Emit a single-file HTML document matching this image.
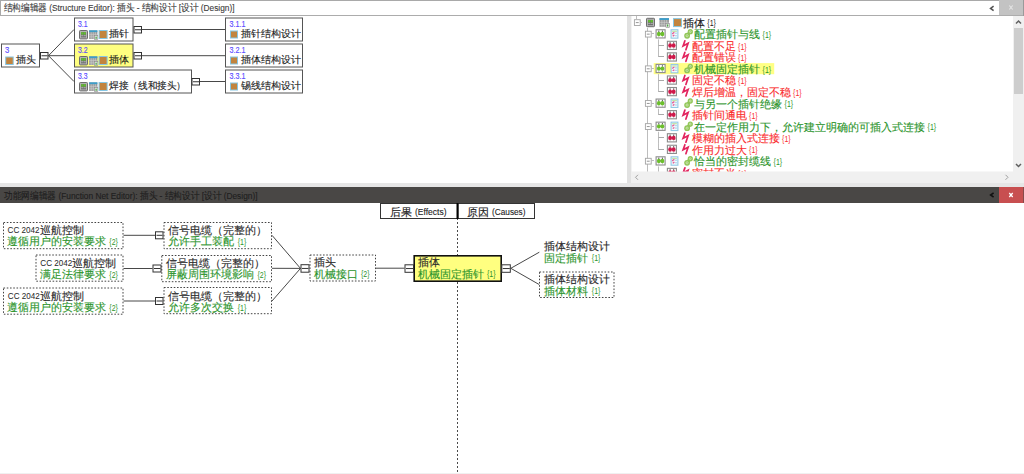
<!DOCTYPE html>
<html><head><meta charset="utf-8"><style>
html,body{margin:0;padding:0;background:#fff;width:1024px;height:474px;overflow:hidden}
svg text{font-family:"Liberation Sans", sans-serif;white-space:pre}
</style></head><body>
<svg width="1024" height="474" viewBox="0 0 1024 474" style="display:block">
<rect x="0" y="0" width="1024" height="474" fill="#ffffff" />
<rect x="0" y="0" width="1024" height="16" fill="#ffffff" />
<line x1="0" y1="0.5" x2="1024" y2="0.5" stroke="#a9a9a9" stroke-width="1" />
<line x1="0.5" y1="0" x2="0.5" y2="16" stroke="#a9a9a9" stroke-width="1" />
<line x1="0" y1="15.5" x2="1024" y2="15.5" stroke="#acacac" stroke-width="1.2" />
<rect x="999" y="0" width="25" height="15" fill="#c3c3c3" />
<line x1="1023.5" y1="0" x2="1023.5" y2="16" stroke="#9a9a9a" stroke-width="1" />
<path d="M1009.3 5.5 L1012.7 9.5 M1012.7 5.5 L1009.3 9.5" stroke="#e6e6e6" stroke-width="1.1"/>
<path d="M993.6 6.2 L990.6 8.4 L993.6 10.6" stroke="#555" stroke-width="1.6" fill="none"/>
<text x="3.5" y="11" font-size="9.6" fill="#3c3c3c" stroke="#3c3c3c" stroke-width="0.12" textLength="231" lengthAdjust="spacingAndGlyphs" >结构编辑器 (Structure Editor): 插头 - 结构设计 [设计 (Design)]</text>
<rect x="627" y="16" width="4" height="171" fill="#e1e1e1" />
<rect x="631" y="16" width="1" height="156" fill="#f3f3f3" />
<rect x="1013" y="16" width="11" height="156" fill="#f0f0f0" />
<rect x="1014" y="28" width="9" height="66" fill="#cdcdcd" />
<path d="M1016 23.5 L1018.5 21 L1021 23.5" stroke="#606060" stroke-width="1.5" fill="none"/>
<path d="M1016 164 L1018.5 166.5 L1021 164" stroke="#606060" stroke-width="1.5" fill="none"/>
<rect x="631" y="171.5" width="393" height="12" fill="#f0f0f0" />
<path d="M638 174.8 L635.5 177.3 L638 179.8" stroke="#a0a0a0" stroke-width="1" fill="none"/>
<path d="M1005.5 174.8 L1008 177.3 L1005.5 179.8" stroke="#a0a0a0" stroke-width="1" fill="none"/>
<rect x="0" y="183" width="1024" height="4" fill="#e6e6e6" />
<rect x="0" y="187" width="1024" height="16" fill="#494745" />
<text x="4" y="199" font-size="9.6" fill="#1e1e1e" stroke="#1e1e1e" stroke-width="0.12" textLength="253.5" lengthAdjust="spacingAndGlyphs" >功能网编辑器 (Function Net Editor): 插头 - 结构设计 [设计 (Design)]</text>
<rect x="999" y="187" width="24.5" height="16" fill="#c84f50" />
<path d="M1009.3 193 L1012.7 197 M1012.7 193 L1009.3 197" stroke="#ffffff" stroke-width="1.3"/>
<path d="M993.6 192.8 L990.6 195 L993.6 197.2" stroke="#111" stroke-width="1.6" fill="none"/>
<rect x="1.5" y="44.0" width="38" height="23" fill="#ffffff" stroke="#555555" stroke-width="1" />
<text x="5" y="52.5" font-size="9" fill="#5a4cff" stroke="#5a4cff" stroke-width="0.15" textLength="4.3" lengthAdjust="spacingAndGlyphs" >3</text>
<rect x="5.7" y="57.0" width="7.5" height="7.5" fill="#c2843e" stroke="#86c6e4" stroke-width="1" />
<text x="16.3" y="63.3" font-size="9.8" fill="#1a1a1a" stroke="#1a1a1a" stroke-width="0.12" >插头</text>
<rect x="40.5" y="52.5" width="7.5" height="6.5" fill="#fff" stroke="#333" stroke-width="1" />
<line x1="41.5" y1="55.75" x2="47.5" y2="55.75" stroke="#333" stroke-width="1" />
<rect x="74.5" y="18.0" width="58.5" height="23" fill="#ffffff" stroke="#555555" stroke-width="1" />
<text x="78" y="27" font-size="9" fill="#5a4cff" stroke="#5a4cff" stroke-width="0.15" textLength="9.6" lengthAdjust="spacingAndGlyphs" >3.1</text>
<rect x="79.5" y="30.5" width="8" height="8.4" fill="#b4b4b4" stroke="#6c6c6c" stroke-width="1" rx="0.8"/>
<rect x="81" y="32" width="5" height="5.4" fill="#6e6e6e" />
<rect x="81.2" y="32.2" width="2.1" height="2.4" fill="#62c22c" />
<rect x="83.7" y="32.2" width="2.1" height="2.4" fill="#62c22c" />
<rect x="81.2" y="35.1" width="2.1" height="1.2" fill="#a8a8a8" />
<rect x="83.7" y="35.1" width="2.1" height="1.2" fill="#a8a8a8" />
<rect x="89.1" y="30.5" width="8.299999999999999" height="8.5" fill="#9c9c9c" />
<rect x="89.1" y="30.3" width="8.299999999999999" height="1.9" fill="#3d9dc9" />
<line x1="91.175" y1="32.2" x2="91.175" y2="39" stroke="#d8d8d8" stroke-width="0.6" />
<line x1="93.25" y1="32.2" x2="93.25" y2="39" stroke="#d8d8d8" stroke-width="0.6" />
<line x1="95.32499999999999" y1="32.2" x2="95.32499999999999" y2="39" stroke="#d8d8d8" stroke-width="0.6" />
<line x1="89.1" y1="34.6" x2="97.39999999999999" y2="34.6" stroke="#d0d0d0" stroke-width="0.5" />
<line x1="89.1" y1="36.8" x2="97.39999999999999" y2="36.8" stroke="#d0d0d0" stroke-width="0.5" />
<rect x="94.39999999999999" y="35.6" width="3.4" height="3.9" fill="#f0f0f0" stroke="#8a8a8a" stroke-width="0.6" />
<rect x="95.49999999999999" y="36.6" width="1.2" height="2.2" fill="#3aa030" />
<rect x="99.1" y="30.5" width="8" height="8" fill="#c2843e" stroke="#86c6e4" stroke-width="1" />
<text x="109" y="37.2" font-size="9.8" fill="#1a1a1a" stroke="#1a1a1a" stroke-width="0.12" >插针</text>
<rect x="134.0" y="26.5" width="7.5" height="6.5" fill="#fff" stroke="#333" stroke-width="1" />
<line x1="135.0" y1="29.75" x2="141.0" y2="29.75" stroke="#333" stroke-width="1" />
<rect x="74.5" y="44.0" width="58.5" height="23" fill="#ffff80" stroke="#555555" stroke-width="1" />
<text x="78" y="53" font-size="9" fill="#5a4cff" stroke="#5a4cff" stroke-width="0.15" textLength="9.6" lengthAdjust="spacingAndGlyphs" >3.2</text>
<rect x="79.5" y="56.5" width="8" height="8.4" fill="#b4b4b4" stroke="#6c6c6c" stroke-width="1" rx="0.8"/>
<rect x="81" y="58" width="5" height="5.4" fill="#6e6e6e" />
<rect x="81.2" y="58.2" width="2.1" height="2.4" fill="#62c22c" />
<rect x="83.7" y="58.2" width="2.1" height="2.4" fill="#62c22c" />
<rect x="81.2" y="61.1" width="2.1" height="1.2" fill="#a8a8a8" />
<rect x="83.7" y="61.1" width="2.1" height="1.2" fill="#a8a8a8" />
<rect x="89.1" y="56.5" width="8.299999999999999" height="8.5" fill="#9c9c9c" />
<rect x="89.1" y="56.3" width="8.299999999999999" height="1.9" fill="#3d9dc9" />
<line x1="91.175" y1="58.2" x2="91.175" y2="65" stroke="#d8d8d8" stroke-width="0.6" />
<line x1="93.25" y1="58.2" x2="93.25" y2="65" stroke="#d8d8d8" stroke-width="0.6" />
<line x1="95.32499999999999" y1="58.2" x2="95.32499999999999" y2="65" stroke="#d8d8d8" stroke-width="0.6" />
<line x1="89.1" y1="60.6" x2="97.39999999999999" y2="60.6" stroke="#d0d0d0" stroke-width="0.5" />
<line x1="89.1" y1="62.8" x2="97.39999999999999" y2="62.8" stroke="#d0d0d0" stroke-width="0.5" />
<rect x="94.39999999999999" y="61.6" width="3.4" height="3.9" fill="#f0f0f0" stroke="#8a8a8a" stroke-width="0.6" />
<rect x="95.49999999999999" y="62.6" width="1.2" height="2.2" fill="#3aa030" />
<rect x="99.1" y="56.5" width="8" height="8" fill="#c2843e" stroke="#86c6e4" stroke-width="1" />
<text x="109" y="63.2" font-size="9.8" fill="#1a1a1a" stroke="#1a1a1a" stroke-width="0.12" >插体</text>
<rect x="134.0" y="52.5" width="7.5" height="6.5" fill="#fff" stroke="#333" stroke-width="1" />
<line x1="135.0" y1="55.75" x2="141.0" y2="55.75" stroke="#333" stroke-width="1" />
<rect x="74.5" y="70.0" width="117" height="23" fill="#ffffff" stroke="#555555" stroke-width="1" />
<text x="78" y="79" font-size="9" fill="#5a4cff" stroke="#5a4cff" stroke-width="0.15" textLength="9.6" lengthAdjust="spacingAndGlyphs" >3.3</text>
<rect x="79.5" y="82.5" width="8" height="8.4" fill="#b4b4b4" stroke="#6c6c6c" stroke-width="1" rx="0.8"/>
<rect x="81" y="84" width="5" height="5.4" fill="#6e6e6e" />
<rect x="81.2" y="84.2" width="2.1" height="2.4" fill="#62c22c" />
<rect x="83.7" y="84.2" width="2.1" height="2.4" fill="#62c22c" />
<rect x="81.2" y="87.1" width="2.1" height="1.2" fill="#a8a8a8" />
<rect x="83.7" y="87.1" width="2.1" height="1.2" fill="#a8a8a8" />
<rect x="89.1" y="82.5" width="8.299999999999999" height="8.5" fill="#9c9c9c" />
<rect x="89.1" y="82.3" width="8.299999999999999" height="1.9" fill="#3d9dc9" />
<line x1="91.175" y1="84.2" x2="91.175" y2="91" stroke="#d8d8d8" stroke-width="0.6" />
<line x1="93.25" y1="84.2" x2="93.25" y2="91" stroke="#d8d8d8" stroke-width="0.6" />
<line x1="95.32499999999999" y1="84.2" x2="95.32499999999999" y2="91" stroke="#d8d8d8" stroke-width="0.6" />
<line x1="89.1" y1="86.6" x2="97.39999999999999" y2="86.6" stroke="#d0d0d0" stroke-width="0.5" />
<line x1="89.1" y1="88.8" x2="97.39999999999999" y2="88.8" stroke="#d0d0d0" stroke-width="0.5" />
<rect x="94.39999999999999" y="87.6" width="3.4" height="3.9" fill="#f0f0f0" stroke="#8a8a8a" stroke-width="0.6" />
<rect x="95.49999999999999" y="88.6" width="1.2" height="2.2" fill="#3aa030" />
<rect x="99.1" y="82.5" width="8" height="8" fill="#c2843e" stroke="#86c6e4" stroke-width="1" />
<text x="109" y="89.2" font-size="9.8" fill="#1a1a1a" stroke="#1a1a1a" stroke-width="0.12" textLength="77" lengthAdjust="spacingAndGlyphs" >焊接（线和接头）</text>
<rect x="192.0" y="78.5" width="7.5" height="6.5" fill="#fff" stroke="#333" stroke-width="1" />
<line x1="193.0" y1="81.75" x2="199.0" y2="81.75" stroke="#333" stroke-width="1" />
<line x1="48.5" y1="55.7" x2="74" y2="29.5" stroke="#333" stroke-width="0.9" />
<line x1="48.5" y1="55.7" x2="74" y2="55.7" stroke="#333" stroke-width="0.9" />
<line x1="48.5" y1="55.7" x2="74" y2="81.5" stroke="#333" stroke-width="0.9" />
<line x1="142" y1="29.5" x2="225.5" y2="29.5" stroke="#333" stroke-width="0.9" />
<line x1="142" y1="55.7" x2="225.5" y2="55.7" stroke="#333" stroke-width="0.9" />
<line x1="200" y1="81.5" x2="225.5" y2="81.5" stroke="#333" stroke-width="0.9" />
<rect x="225.5" y="18.0" width="77" height="23" fill="#ffffff" stroke="#555555" stroke-width="1" />
<text x="229.5" y="27.0" font-size="9" fill="#5a4cff" stroke="#5a4cff" stroke-width="0.15" textLength="16" lengthAdjust="spacingAndGlyphs" >3.1.1</text>
<rect x="230.5" y="31.0" width="7" height="7" fill="#c2843e" stroke="#86c6e4" stroke-width="1" />
<text x="241" y="37.2" font-size="9.8" fill="#1a1a1a" stroke="#1a1a1a" stroke-width="0.12" >插针结构设计</text>
<rect x="225.5" y="44.0" width="77" height="23" fill="#ffffff" stroke="#555555" stroke-width="1" />
<text x="229.5" y="53.0" font-size="9" fill="#5a4cff" stroke="#5a4cff" stroke-width="0.15" textLength="16" lengthAdjust="spacingAndGlyphs" >3.2.1</text>
<rect x="230.5" y="57.0" width="7" height="7" fill="#c2843e" stroke="#86c6e4" stroke-width="1" />
<text x="241" y="63.2" font-size="9.8" fill="#1a1a1a" stroke="#1a1a1a" stroke-width="0.12" >插体结构设计</text>
<rect x="225.5" y="70.0" width="77" height="23" fill="#ffffff" stroke="#555555" stroke-width="1" />
<text x="229.5" y="79.0" font-size="9" fill="#5a4cff" stroke="#5a4cff" stroke-width="0.15" textLength="16" lengthAdjust="spacingAndGlyphs" >3.3.1</text>
<rect x="230.5" y="83.0" width="7" height="7" fill="#c2843e" stroke="#86c6e4" stroke-width="1" />
<text x="241" y="89.2" font-size="9.8" fill="#1a1a1a" stroke="#1a1a1a" stroke-width="0.12" >锡线结构设计</text>
<svg x="631" y="16" width="382" height="155.5" overflow="hidden"><g transform="translate(-631,-16)">
<rect x="653.7" y="63.1" width="120.5" height="11.1" fill="#ffff84" />
<line x1="636.5" y1="14" x2="636.5" y2="19" stroke="#bdbdbd" stroke-width="1" />
<line x1="647.5" y1="28" x2="647.5" y2="175" stroke="#bdbdbd" stroke-width="1" />
<rect x="634.4" y="19.7" width="5.8" height="5.8" fill="#fff" stroke="#a4a4a4" stroke-width="0.9" />
<line x1="635.8" y1="22.6" x2="638.7" y2="22.6" stroke="#8a8a8a" stroke-width="0.9" />
<line x1="640.2" y1="22.5" x2="642" y2="22.5" stroke="#c4c4c4" stroke-width="1" />
<rect x="646.5" y="18.3" width="8" height="8.4" fill="#b4b4b4" stroke="#6c6c6c" stroke-width="1" rx="0.8"/>
<rect x="648" y="19.8" width="5" height="5.4" fill="#6e6e6e" />
<rect x="648.2" y="20.0" width="2.1" height="2.4" fill="#62c22c" />
<rect x="650.7" y="20.0" width="2.1" height="2.4" fill="#62c22c" />
<rect x="648.2" y="22.9" width="2.1" height="1.2" fill="#a8a8a8" />
<rect x="650.7" y="22.9" width="2.1" height="1.2" fill="#a8a8a8" />
<rect x="659.5" y="18.3" width="9.5" height="8.5" fill="#9c9c9c" />
<rect x="659.5" y="18.1" width="9.5" height="1.9" fill="#3d9dc9" />
<line x1="661.875" y1="20.0" x2="661.875" y2="26.8" stroke="#d8d8d8" stroke-width="0.6" />
<line x1="664.25" y1="20.0" x2="664.25" y2="26.8" stroke="#d8d8d8" stroke-width="0.6" />
<line x1="666.625" y1="20.0" x2="666.625" y2="26.8" stroke="#d8d8d8" stroke-width="0.6" />
<line x1="659.5" y1="22.4" x2="669.0" y2="22.4" stroke="#d0d0d0" stroke-width="0.5" />
<line x1="659.5" y1="24.6" x2="669.0" y2="24.6" stroke="#d0d0d0" stroke-width="0.5" />
<rect x="666.0" y="23.4" width="3.4" height="3.9" fill="#f0f0f0" stroke="#8a8a8a" stroke-width="0.6" />
<rect x="667.1" y="24.4" width="1.2" height="2.2" fill="#3aa030" />
<rect x="673.5" y="18.6" width="8" height="8" fill="#c2843e" stroke="#86c6e4" stroke-width="1" />
<text x="683" y="26.700000000000003" font-size="11" fill="#1a1a1a" stroke="#1a1a1a" stroke-width="0.12" >插体</text>
<text x="707.3" y="26.4" font-size="8.2" fill="#1a1a1a" textLength="8.6" lengthAdjust="spacingAndGlyphs" >{1}</text>
<rect x="645.4" y="31.25" width="5.8" height="5.8" fill="#fff" stroke="#a4a4a4" stroke-width="0.9" />
<line x1="646.8" y1="34.15" x2="649.7" y2="34.15" stroke="#8a8a8a" stroke-width="0.9" />
<line x1="651.2" y1="33.5" x2="653" y2="33.5" stroke="#c4c4c4" stroke-width="1" />
<line x1="651" y1="33.5" x2="654" y2="33.5" stroke="#bdbdbd" stroke-width="1" />
<rect x="656.1" y="29.75" width="9" height="8.2" fill="#ffffff" stroke="#8c8c8c" stroke-width="1.1" />
<line x1="658.8" y1="30.55" x2="658.8" y2="32.050000000000004" stroke="#444" stroke-width="0.9" />
<line x1="662.4" y1="30.55" x2="662.4" y2="32.050000000000004" stroke="#444" stroke-width="0.9" />
<line x1="658.8" y1="36.35" x2="658.8" y2="37.25" stroke="#999" stroke-width="0.8" />
<line x1="662.4" y1="36.35" x2="662.4" y2="37.25" stroke="#999" stroke-width="0.8" />
<line x1="658.8" y1="33.85" x2="662.4" y2="33.85" stroke="#333" stroke-width="0.9" />
<ellipse cx="658.8" cy="33.95" rx="1.9" ry="2.2" fill="#6cbf2c"/><ellipse cx="662.4" cy="33.95" rx="1.9" ry="2.2" fill="#6cbf2c"/>
<rect x="671.1" y="29.75" width="6.8" height="8.4" fill="#f4fafd" stroke="#92c9e6" stroke-width="1.1" />
<rect x="672.1" y="30.650000000000002" width="4.8" height="1.3" fill="#c2e4ac" />
<rect x="674.9" y="32.550000000000004" width="2.2" height="1.3" fill="#b4daf0" />
<rect x="674.9" y="35.050000000000004" width="2.2" height="1.3" fill="#b4daf0" />
<path d="M674.4 32.35 L672.7 33.35 L672.7 34.15 M674.4 35.050000000000004 L672.7 36.15" stroke="#e45a94" stroke-width="1.3" fill="none"/>
<path d="M687.3 35.65 L690.2 31.650000000000002" stroke="#92c658" stroke-width="3.2"/>
<circle cx="687.1" cy="35.75" r="2.9" fill="#92c658"/><circle cx="690.3" cy="31.650000000000002" r="2.6" fill="#92c658"/>
<circle cx="687.1" cy="35.75" r="1.1" fill="none" stroke="#e4f2d6" stroke-width="0.6"/><circle cx="690.3" cy="31.650000000000002" r="0.9" fill="none" stroke="#e4f2d6" stroke-width="0.6"/>
<text x="694.3" y="38.25" font-size="11" fill="#2b942b" stroke="#2b942b" stroke-width="0.12" >配置插针与线</text>
<text x="762.5999999999999" y="37.95" font-size="8.2" fill="#2b942b" textLength="8.6" lengthAdjust="spacingAndGlyphs" >{1}</text>
<line x1="658.5" y1="39.400000000000006" x2="658.5" y2="51.400000000000006" stroke="#bdbdbd" stroke-width="1" />
<line x1="658.5" y1="45.5" x2="664" y2="45.5" stroke="#a8a8a8" stroke-width="1" />
<rect x="667.4" y="41.300000000000004" width="9" height="8.2" fill="#ffffff" stroke="#8c8c8c" stroke-width="1.1" />
<line x1="670.0999999999999" y1="42.10000000000001" x2="670.0999999999999" y2="43.60000000000001" stroke="#444" stroke-width="0.9" />
<line x1="673.6999999999999" y1="42.10000000000001" x2="673.6999999999999" y2="43.60000000000001" stroke="#444" stroke-width="0.9" />
<line x1="670.0999999999999" y1="47.900000000000006" x2="670.0999999999999" y2="48.800000000000004" stroke="#999" stroke-width="0.8" />
<line x1="673.6999999999999" y1="47.900000000000006" x2="673.6999999999999" y2="48.800000000000004" stroke="#999" stroke-width="0.8" />
<line x1="670.0999999999999" y1="45.400000000000006" x2="673.6999999999999" y2="45.400000000000006" stroke="#333" stroke-width="0.9" />
<ellipse cx="670.0999999999999" cy="45.50000000000001" rx="1.9" ry="2.2" fill="#d0184a"/><ellipse cx="673.6999999999999" cy="45.50000000000001" rx="1.9" ry="2.2" fill="#d0184a"/>
<path d="M684.9 40.800000000000004 L683.1 45.900000000000006 L688.1 43.300000000000004 L685.9 49.800000000000004" stroke="#e2245e" stroke-width="1.7" fill="none" stroke-linejoin="miter" stroke-linecap="round"/>
<text x="691.8" y="49.800000000000004" font-size="11" fill="#fa2d2d" stroke="#fa2d2d" stroke-width="0.12" >配置不足</text>
<text x="738.0999999999999" y="49.50000000000001" font-size="8.2" fill="#fa2d2d" textLength="8.6" lengthAdjust="spacingAndGlyphs" >{1}</text>
<line x1="658.5" y1="50.95" x2="658.5" y2="57.0" stroke="#bdbdbd" stroke-width="1" />
<line x1="658.5" y1="56.5" x2="664" y2="56.5" stroke="#a8a8a8" stroke-width="1" />
<rect x="667.4" y="52.85" width="9" height="8.2" fill="#ffffff" stroke="#8c8c8c" stroke-width="1.1" />
<line x1="670.0999999999999" y1="53.650000000000006" x2="670.0999999999999" y2="55.150000000000006" stroke="#444" stroke-width="0.9" />
<line x1="673.6999999999999" y1="53.650000000000006" x2="673.6999999999999" y2="55.150000000000006" stroke="#444" stroke-width="0.9" />
<line x1="670.0999999999999" y1="59.45" x2="670.0999999999999" y2="60.35" stroke="#999" stroke-width="0.8" />
<line x1="673.6999999999999" y1="59.45" x2="673.6999999999999" y2="60.35" stroke="#999" stroke-width="0.8" />
<line x1="670.0999999999999" y1="56.95" x2="673.6999999999999" y2="56.95" stroke="#333" stroke-width="0.9" />
<ellipse cx="670.0999999999999" cy="57.050000000000004" rx="1.9" ry="2.2" fill="#d0184a"/><ellipse cx="673.6999999999999" cy="57.050000000000004" rx="1.9" ry="2.2" fill="#d0184a"/>
<path d="M684.9 52.35 L683.1 57.45 L688.1 54.85 L685.9 61.35" stroke="#e2245e" stroke-width="1.7" fill="none" stroke-linejoin="miter" stroke-linecap="round"/>
<text x="691.8" y="61.35" font-size="11" fill="#fa2d2d" stroke="#fa2d2d" stroke-width="0.12" >配置错误</text>
<text x="738.0999999999999" y="61.050000000000004" font-size="8.2" fill="#fa2d2d" textLength="8.6" lengthAdjust="spacingAndGlyphs" >{1}</text>
<rect x="645.4" y="65.9" width="5.8" height="5.8" fill="#fff" stroke="#a4a4a4" stroke-width="0.9" />
<line x1="646.8" y1="68.8" x2="649.7" y2="68.8" stroke="#8a8a8a" stroke-width="0.9" />
<line x1="651.2" y1="68.5" x2="653" y2="68.5" stroke="#c4c4c4" stroke-width="1" />
<line x1="651" y1="68.5" x2="654" y2="68.5" stroke="#bdbdbd" stroke-width="1" />
<rect x="656.1" y="64.4" width="9" height="8.2" fill="#ffffff" stroke="#8c8c8c" stroke-width="1.1" />
<line x1="658.8" y1="65.2" x2="658.8" y2="66.7" stroke="#444" stroke-width="0.9" />
<line x1="662.4" y1="65.2" x2="662.4" y2="66.7" stroke="#444" stroke-width="0.9" />
<line x1="658.8" y1="71.0" x2="658.8" y2="71.9" stroke="#999" stroke-width="0.8" />
<line x1="662.4" y1="71.0" x2="662.4" y2="71.9" stroke="#999" stroke-width="0.8" />
<line x1="658.8" y1="68.5" x2="662.4" y2="68.5" stroke="#333" stroke-width="0.9" />
<ellipse cx="658.8" cy="68.6" rx="1.9" ry="2.2" fill="#6cbf2c"/><ellipse cx="662.4" cy="68.6" rx="1.9" ry="2.2" fill="#6cbf2c"/>
<rect x="671.1" y="64.4" width="6.8" height="8.4" fill="#f4fafd" stroke="#92c9e6" stroke-width="1.1" />
<rect x="672.1" y="65.3" width="4.8" height="1.3" fill="#c2e4ac" />
<rect x="674.9" y="67.2" width="2.2" height="1.3" fill="#b4daf0" />
<rect x="674.9" y="69.7" width="2.2" height="1.3" fill="#b4daf0" />
<path d="M674.4 67.0 L672.7 68.0 L672.7 68.8 M674.4 69.7 L672.7 70.8" stroke="#e45a94" stroke-width="1.3" fill="none"/>
<path d="M687.3 70.3 L690.2 66.3" stroke="#92c658" stroke-width="3.2"/>
<circle cx="687.1" cy="70.4" r="2.9" fill="#92c658"/><circle cx="690.3" cy="66.3" r="2.6" fill="#92c658"/>
<circle cx="687.1" cy="70.4" r="1.1" fill="none" stroke="#e4f2d6" stroke-width="0.6"/><circle cx="690.3" cy="66.3" r="0.9" fill="none" stroke="#e4f2d6" stroke-width="0.6"/>
<text x="694.3" y="72.9" font-size="11" fill="#2b942b" stroke="#2b942b" stroke-width="0.12" >机械固定插针</text>
<text x="762.5999999999999" y="72.6" font-size="8.2" fill="#2b942b" textLength="8.6" lengthAdjust="spacingAndGlyphs" >{1}</text>
<line x1="658.5" y1="74.05" x2="658.5" y2="86.05" stroke="#bdbdbd" stroke-width="1" />
<line x1="658.5" y1="80.5" x2="664" y2="80.5" stroke="#a8a8a8" stroke-width="1" />
<rect x="667.4" y="75.95" width="9" height="8.2" fill="#ffffff" stroke="#8c8c8c" stroke-width="1.1" />
<line x1="670.0999999999999" y1="76.75" x2="670.0999999999999" y2="78.25" stroke="#444" stroke-width="0.9" />
<line x1="673.6999999999999" y1="76.75" x2="673.6999999999999" y2="78.25" stroke="#444" stroke-width="0.9" />
<line x1="670.0999999999999" y1="82.55" x2="670.0999999999999" y2="83.45" stroke="#999" stroke-width="0.8" />
<line x1="673.6999999999999" y1="82.55" x2="673.6999999999999" y2="83.45" stroke="#999" stroke-width="0.8" />
<line x1="670.0999999999999" y1="80.05" x2="673.6999999999999" y2="80.05" stroke="#333" stroke-width="0.9" />
<ellipse cx="670.0999999999999" cy="80.14999999999999" rx="1.9" ry="2.2" fill="#d0184a"/><ellipse cx="673.6999999999999" cy="80.14999999999999" rx="1.9" ry="2.2" fill="#d0184a"/>
<path d="M684.9 75.45 L683.1 80.55 L688.1 77.95 L685.9 84.45" stroke="#e2245e" stroke-width="1.7" fill="none" stroke-linejoin="miter" stroke-linecap="round"/>
<text x="691.8" y="84.45" font-size="11" fill="#fa2d2d" stroke="#fa2d2d" stroke-width="0.12" >固定不稳</text>
<text x="738.0999999999999" y="84.14999999999999" font-size="8.2" fill="#fa2d2d" textLength="8.6" lengthAdjust="spacingAndGlyphs" >{1}</text>
<line x1="658.5" y1="85.60000000000001" x2="658.5" y2="92.0" stroke="#bdbdbd" stroke-width="1" />
<line x1="658.5" y1="91.5" x2="664" y2="91.5" stroke="#a8a8a8" stroke-width="1" />
<rect x="667.4" y="87.50000000000001" width="9" height="8.2" fill="#ffffff" stroke="#8c8c8c" stroke-width="1.1" />
<line x1="670.0999999999999" y1="88.30000000000001" x2="670.0999999999999" y2="89.80000000000001" stroke="#444" stroke-width="0.9" />
<line x1="673.6999999999999" y1="88.30000000000001" x2="673.6999999999999" y2="89.80000000000001" stroke="#444" stroke-width="0.9" />
<line x1="670.0999999999999" y1="94.10000000000001" x2="670.0999999999999" y2="95.00000000000001" stroke="#999" stroke-width="0.8" />
<line x1="673.6999999999999" y1="94.10000000000001" x2="673.6999999999999" y2="95.00000000000001" stroke="#999" stroke-width="0.8" />
<line x1="670.0999999999999" y1="91.60000000000001" x2="673.6999999999999" y2="91.60000000000001" stroke="#333" stroke-width="0.9" />
<ellipse cx="670.0999999999999" cy="91.7" rx="1.9" ry="2.2" fill="#d0184a"/><ellipse cx="673.6999999999999" cy="91.7" rx="1.9" ry="2.2" fill="#d0184a"/>
<path d="M684.9 87.00000000000001 L683.1 92.10000000000001 L688.1 89.50000000000001 L685.9 96.00000000000001" stroke="#e2245e" stroke-width="1.7" fill="none" stroke-linejoin="miter" stroke-linecap="round"/>
<text x="691.8" y="96.00000000000001" font-size="11" fill="#fa2d2d" stroke="#fa2d2d" stroke-width="0.12" >焊后增温，固定不稳</text>
<text x="793.0999999999999" y="95.7" font-size="8.2" fill="#fa2d2d" textLength="8.6" lengthAdjust="spacingAndGlyphs" >{1}</text>
<rect x="645.4" y="100.55000000000001" width="5.8" height="5.8" fill="#fff" stroke="#a4a4a4" stroke-width="0.9" />
<line x1="646.8" y1="103.45" x2="649.7" y2="103.45" stroke="#8a8a8a" stroke-width="0.9" />
<line x1="651.2" y1="103.5" x2="653" y2="103.5" stroke="#c4c4c4" stroke-width="1" />
<line x1="651" y1="103.5" x2="654" y2="103.5" stroke="#bdbdbd" stroke-width="1" />
<rect x="656.1" y="99.05000000000001" width="9" height="8.2" fill="#ffffff" stroke="#8c8c8c" stroke-width="1.1" />
<line x1="658.8" y1="99.85000000000001" x2="658.8" y2="101.35000000000001" stroke="#444" stroke-width="0.9" />
<line x1="662.4" y1="99.85000000000001" x2="662.4" y2="101.35000000000001" stroke="#444" stroke-width="0.9" />
<line x1="658.8" y1="105.65" x2="658.8" y2="106.55000000000001" stroke="#999" stroke-width="0.8" />
<line x1="662.4" y1="105.65" x2="662.4" y2="106.55000000000001" stroke="#999" stroke-width="0.8" />
<line x1="658.8" y1="103.15" x2="662.4" y2="103.15" stroke="#333" stroke-width="0.9" />
<ellipse cx="658.8" cy="103.25" rx="1.9" ry="2.2" fill="#6cbf2c"/><ellipse cx="662.4" cy="103.25" rx="1.9" ry="2.2" fill="#6cbf2c"/>
<rect x="671.1" y="99.05000000000001" width="6.8" height="8.4" fill="#f4fafd" stroke="#92c9e6" stroke-width="1.1" />
<rect x="672.1" y="99.95" width="4.8" height="1.3" fill="#c2e4ac" />
<rect x="674.9" y="101.85000000000001" width="2.2" height="1.3" fill="#b4daf0" />
<rect x="674.9" y="104.35000000000001" width="2.2" height="1.3" fill="#b4daf0" />
<path d="M674.4 101.65 L672.7 102.65 L672.7 103.45 M674.4 104.35000000000001 L672.7 105.45" stroke="#e45a94" stroke-width="1.3" fill="none"/>
<path d="M687.3 104.95 L690.2 100.95" stroke="#92c658" stroke-width="3.2"/>
<circle cx="687.1" cy="105.05000000000001" r="2.9" fill="#92c658"/><circle cx="690.3" cy="100.95" r="2.6" fill="#92c658"/>
<circle cx="687.1" cy="105.05000000000001" r="1.1" fill="none" stroke="#e4f2d6" stroke-width="0.6"/><circle cx="690.3" cy="100.95" r="0.9" fill="none" stroke="#e4f2d6" stroke-width="0.6"/>
<text x="694.3" y="107.55000000000001" font-size="11" fill="#2b942b" stroke="#2b942b" stroke-width="0.12" >与另一个插针绝缘</text>
<text x="784.5999999999999" y="107.25" font-size="8.2" fill="#2b942b" textLength="8.6" lengthAdjust="spacingAndGlyphs" >{1}</text>
<line x1="658.5" y1="108.7" x2="658.5" y2="115.0" stroke="#bdbdbd" stroke-width="1" />
<line x1="658.5" y1="114.5" x2="664" y2="114.5" stroke="#a8a8a8" stroke-width="1" />
<rect x="667.4" y="110.60000000000001" width="9" height="8.2" fill="#ffffff" stroke="#8c8c8c" stroke-width="1.1" />
<line x1="670.0999999999999" y1="111.4" x2="670.0999999999999" y2="112.9" stroke="#444" stroke-width="0.9" />
<line x1="673.6999999999999" y1="111.4" x2="673.6999999999999" y2="112.9" stroke="#444" stroke-width="0.9" />
<line x1="670.0999999999999" y1="117.2" x2="670.0999999999999" y2="118.10000000000001" stroke="#999" stroke-width="0.8" />
<line x1="673.6999999999999" y1="117.2" x2="673.6999999999999" y2="118.10000000000001" stroke="#999" stroke-width="0.8" />
<line x1="670.0999999999999" y1="114.7" x2="673.6999999999999" y2="114.7" stroke="#333" stroke-width="0.9" />
<ellipse cx="670.0999999999999" cy="114.8" rx="1.9" ry="2.2" fill="#d0184a"/><ellipse cx="673.6999999999999" cy="114.8" rx="1.9" ry="2.2" fill="#d0184a"/>
<path d="M684.9 110.10000000000001 L683.1 115.2 L688.1 112.60000000000001 L685.9 119.10000000000001" stroke="#e2245e" stroke-width="1.7" fill="none" stroke-linejoin="miter" stroke-linecap="round"/>
<text x="691.8" y="119.10000000000001" font-size="11" fill="#fa2d2d" stroke="#fa2d2d" stroke-width="0.12" >插针间通电</text>
<text x="749.0999999999999" y="118.8" font-size="8.2" fill="#fa2d2d" textLength="8.6" lengthAdjust="spacingAndGlyphs" >{1}</text>
<rect x="645.4" y="123.65" width="5.8" height="5.8" fill="#fff" stroke="#a4a4a4" stroke-width="0.9" />
<line x1="646.8" y1="126.55" x2="649.7" y2="126.55" stroke="#8a8a8a" stroke-width="0.9" />
<line x1="651.2" y1="126.5" x2="653" y2="126.5" stroke="#c4c4c4" stroke-width="1" />
<line x1="651" y1="126.5" x2="654" y2="126.5" stroke="#bdbdbd" stroke-width="1" />
<rect x="656.1" y="122.15" width="9" height="8.2" fill="#ffffff" stroke="#8c8c8c" stroke-width="1.1" />
<line x1="658.8" y1="122.95" x2="658.8" y2="124.45" stroke="#444" stroke-width="0.9" />
<line x1="662.4" y1="122.95" x2="662.4" y2="124.45" stroke="#444" stroke-width="0.9" />
<line x1="658.8" y1="128.75" x2="658.8" y2="129.65" stroke="#999" stroke-width="0.8" />
<line x1="662.4" y1="128.75" x2="662.4" y2="129.65" stroke="#999" stroke-width="0.8" />
<line x1="658.8" y1="126.25" x2="662.4" y2="126.25" stroke="#333" stroke-width="0.9" />
<ellipse cx="658.8" cy="126.35" rx="1.9" ry="2.2" fill="#6cbf2c"/><ellipse cx="662.4" cy="126.35" rx="1.9" ry="2.2" fill="#6cbf2c"/>
<rect x="671.1" y="122.15" width="6.8" height="8.4" fill="#f4fafd" stroke="#92c9e6" stroke-width="1.1" />
<rect x="672.1" y="123.05" width="4.8" height="1.3" fill="#c2e4ac" />
<rect x="674.9" y="124.95" width="2.2" height="1.3" fill="#b4daf0" />
<rect x="674.9" y="127.45" width="2.2" height="1.3" fill="#b4daf0" />
<path d="M674.4 124.75 L672.7 125.75 L672.7 126.55 M674.4 127.45 L672.7 128.55" stroke="#e45a94" stroke-width="1.3" fill="none"/>
<path d="M687.3 128.05 L690.2 124.05" stroke="#92c658" stroke-width="3.2"/>
<circle cx="687.1" cy="128.15" r="2.9" fill="#92c658"/><circle cx="690.3" cy="124.05" r="2.6" fill="#92c658"/>
<circle cx="687.1" cy="128.15" r="1.1" fill="none" stroke="#e4f2d6" stroke-width="0.6"/><circle cx="690.3" cy="124.05" r="0.9" fill="none" stroke="#e4f2d6" stroke-width="0.6"/>
<text x="694.3" y="130.65" font-size="11" fill="#2b942b" stroke="#2b942b" stroke-width="0.12" >在一定作用力下，允许建立明确的可插入式连接</text>
<text x="927.5999999999999" y="130.35" font-size="8.2" fill="#2b942b" textLength="8.6" lengthAdjust="spacingAndGlyphs" >{1}</text>
<line x1="658.5" y1="131.8" x2="658.5" y2="143.8" stroke="#bdbdbd" stroke-width="1" />
<line x1="658.5" y1="137.5" x2="664" y2="137.5" stroke="#a8a8a8" stroke-width="1" />
<rect x="667.4" y="133.70000000000002" width="9" height="8.2" fill="#ffffff" stroke="#8c8c8c" stroke-width="1.1" />
<line x1="670.0999999999999" y1="134.5" x2="670.0999999999999" y2="136.0" stroke="#444" stroke-width="0.9" />
<line x1="673.6999999999999" y1="134.5" x2="673.6999999999999" y2="136.0" stroke="#444" stroke-width="0.9" />
<line x1="670.0999999999999" y1="140.3" x2="670.0999999999999" y2="141.20000000000002" stroke="#999" stroke-width="0.8" />
<line x1="673.6999999999999" y1="140.3" x2="673.6999999999999" y2="141.20000000000002" stroke="#999" stroke-width="0.8" />
<line x1="670.0999999999999" y1="137.8" x2="673.6999999999999" y2="137.8" stroke="#333" stroke-width="0.9" />
<ellipse cx="670.0999999999999" cy="137.9" rx="1.9" ry="2.2" fill="#d0184a"/><ellipse cx="673.6999999999999" cy="137.9" rx="1.9" ry="2.2" fill="#d0184a"/>
<path d="M684.9 133.20000000000002 L683.1 138.3 L688.1 135.70000000000002 L685.9 142.20000000000002" stroke="#e2245e" stroke-width="1.7" fill="none" stroke-linejoin="miter" stroke-linecap="round"/>
<text x="691.8" y="142.20000000000002" font-size="11" fill="#fa2d2d" stroke="#fa2d2d" stroke-width="0.12" >模糊的插入式连接</text>
<text x="782.0999999999999" y="141.9" font-size="8.2" fill="#fa2d2d" textLength="8.6" lengthAdjust="spacingAndGlyphs" >{1}</text>
<line x1="658.5" y1="143.35000000000002" x2="658.5" y2="150.0" stroke="#bdbdbd" stroke-width="1" />
<line x1="658.5" y1="149.5" x2="664" y2="149.5" stroke="#a8a8a8" stroke-width="1" />
<rect x="667.4" y="145.25000000000003" width="9" height="8.2" fill="#ffffff" stroke="#8c8c8c" stroke-width="1.1" />
<line x1="670.0999999999999" y1="146.05" x2="670.0999999999999" y2="147.55" stroke="#444" stroke-width="0.9" />
<line x1="673.6999999999999" y1="146.05" x2="673.6999999999999" y2="147.55" stroke="#444" stroke-width="0.9" />
<line x1="670.0999999999999" y1="151.85000000000002" x2="670.0999999999999" y2="152.75000000000003" stroke="#999" stroke-width="0.8" />
<line x1="673.6999999999999" y1="151.85000000000002" x2="673.6999999999999" y2="152.75000000000003" stroke="#999" stroke-width="0.8" />
<line x1="670.0999999999999" y1="149.35000000000002" x2="673.6999999999999" y2="149.35000000000002" stroke="#333" stroke-width="0.9" />
<ellipse cx="670.0999999999999" cy="149.45000000000002" rx="1.9" ry="2.2" fill="#d0184a"/><ellipse cx="673.6999999999999" cy="149.45000000000002" rx="1.9" ry="2.2" fill="#d0184a"/>
<path d="M684.9 144.75000000000003 L683.1 149.85000000000002 L688.1 147.25000000000003 L685.9 153.75000000000003" stroke="#e2245e" stroke-width="1.7" fill="none" stroke-linejoin="miter" stroke-linecap="round"/>
<text x="691.8" y="153.75000000000003" font-size="11" fill="#fa2d2d" stroke="#fa2d2d" stroke-width="0.12" >作用力过大</text>
<text x="749.0999999999999" y="153.45000000000002" font-size="8.2" fill="#fa2d2d" textLength="8.6" lengthAdjust="spacingAndGlyphs" >{1}</text>
<rect x="645.4" y="158.30000000000004" width="5.8" height="5.8" fill="#fff" stroke="#a4a4a4" stroke-width="0.9" />
<line x1="646.8" y1="161.20000000000005" x2="649.7" y2="161.20000000000005" stroke="#8a8a8a" stroke-width="0.9" />
<line x1="651.2" y1="160.5" x2="653" y2="160.5" stroke="#c4c4c4" stroke-width="1" />
<line x1="651" y1="160.5" x2="654" y2="160.5" stroke="#bdbdbd" stroke-width="1" />
<rect x="656.1" y="156.80000000000004" width="9" height="8.2" fill="#ffffff" stroke="#8c8c8c" stroke-width="1.1" />
<line x1="658.8" y1="157.60000000000002" x2="658.8" y2="159.10000000000002" stroke="#444" stroke-width="0.9" />
<line x1="662.4" y1="157.60000000000002" x2="662.4" y2="159.10000000000002" stroke="#444" stroke-width="0.9" />
<line x1="658.8" y1="163.40000000000003" x2="658.8" y2="164.30000000000004" stroke="#999" stroke-width="0.8" />
<line x1="662.4" y1="163.40000000000003" x2="662.4" y2="164.30000000000004" stroke="#999" stroke-width="0.8" />
<line x1="658.8" y1="160.90000000000003" x2="662.4" y2="160.90000000000003" stroke="#333" stroke-width="0.9" />
<ellipse cx="658.8" cy="161.00000000000003" rx="1.9" ry="2.2" fill="#6cbf2c"/><ellipse cx="662.4" cy="161.00000000000003" rx="1.9" ry="2.2" fill="#6cbf2c"/>
<rect x="671.1" y="156.80000000000004" width="6.8" height="8.4" fill="#f4fafd" stroke="#92c9e6" stroke-width="1.1" />
<rect x="672.1" y="157.70000000000005" width="4.8" height="1.3" fill="#c2e4ac" />
<rect x="674.9" y="159.60000000000002" width="2.2" height="1.3" fill="#b4daf0" />
<rect x="674.9" y="162.10000000000002" width="2.2" height="1.3" fill="#b4daf0" />
<path d="M674.4 159.40000000000003 L672.7 160.40000000000003 L672.7 161.20000000000005 M674.4 162.10000000000002 L672.7 163.20000000000005" stroke="#e45a94" stroke-width="1.3" fill="none"/>
<path d="M687.3 162.70000000000005 L690.2 158.70000000000005" stroke="#92c658" stroke-width="3.2"/>
<circle cx="687.1" cy="162.80000000000004" r="2.9" fill="#92c658"/><circle cx="690.3" cy="158.70000000000005" r="2.6" fill="#92c658"/>
<circle cx="687.1" cy="162.80000000000004" r="1.1" fill="none" stroke="#e4f2d6" stroke-width="0.6"/><circle cx="690.3" cy="158.70000000000005" r="0.9" fill="none" stroke="#e4f2d6" stroke-width="0.6"/>
<text x="694.3" y="165.30000000000004" font-size="11" fill="#2b942b" stroke="#2b942b" stroke-width="0.12" >恰当的密封缆线</text>
<text x="773.5999999999999" y="165.00000000000003" font-size="8.2" fill="#2b942b" textLength="8.6" lengthAdjust="spacingAndGlyphs" >{1}</text>
<line x1="658.5" y1="166.45000000000002" x2="658.5" y2="173.0" stroke="#bdbdbd" stroke-width="1" />
<line x1="658.5" y1="172.5" x2="664" y2="172.5" stroke="#a8a8a8" stroke-width="1" />
<rect x="667.4" y="168.35000000000002" width="9" height="8.2" fill="#ffffff" stroke="#8c8c8c" stroke-width="1.1" />
<line x1="670.0999999999999" y1="169.15" x2="670.0999999999999" y2="170.65" stroke="#444" stroke-width="0.9" />
<line x1="673.6999999999999" y1="169.15" x2="673.6999999999999" y2="170.65" stroke="#444" stroke-width="0.9" />
<line x1="670.0999999999999" y1="174.95000000000002" x2="670.0999999999999" y2="175.85000000000002" stroke="#999" stroke-width="0.8" />
<line x1="673.6999999999999" y1="174.95000000000002" x2="673.6999999999999" y2="175.85000000000002" stroke="#999" stroke-width="0.8" />
<line x1="670.0999999999999" y1="172.45000000000002" x2="673.6999999999999" y2="172.45000000000002" stroke="#333" stroke-width="0.9" />
<ellipse cx="670.0999999999999" cy="172.55" rx="1.9" ry="2.2" fill="#d0184a"/><ellipse cx="673.6999999999999" cy="172.55" rx="1.9" ry="2.2" fill="#d0184a"/>
<path d="M684.9 167.85000000000002 L683.1 172.95000000000002 L688.1 170.35000000000002 L685.9 176.85000000000002" stroke="#e2245e" stroke-width="1.7" fill="none" stroke-linejoin="miter" stroke-linecap="round"/>
<text x="691.8" y="176.85000000000002" font-size="11" fill="#fa2d2d" stroke="#fa2d2d" stroke-width="0.12" >密封不当</text>
<text x="738.0999999999999" y="176.55" font-size="8.2" fill="#fa2d2d" textLength="8.6" lengthAdjust="spacingAndGlyphs" >{1}</text>
</g></svg>
<rect x="380.5" y="203.5" width="77" height="15" fill="#fff" stroke="#333" stroke-width="1" />
<rect x="458" y="203.5" width="76.5" height="15" fill="#fff" stroke="#333" stroke-width="1" />
<line x1="457.5" y1="203" x2="457.5" y2="219" stroke="#000" stroke-width="2" />
<text x="389.5" y="215.5" font-size="10.5" fill="#222" stroke="#222" stroke-width="0.12" >后果</text>
<text x="415" y="215.3" font-size="9.3" fill="#222" stroke="#222" stroke-width="0.12" textLength="31.5" lengthAdjust="spacingAndGlyphs" >(Effects)</text>
<text x="467" y="215.5" font-size="10.5" fill="#222" stroke="#222" stroke-width="0.12" >原因</text>
<text x="492" y="215.3" font-size="9.3" fill="#222" stroke="#222" stroke-width="0.12" textLength="33.5" lengthAdjust="spacingAndGlyphs" >(Causes)</text>
<line x1="457.5" y1="219" x2="457.5" y2="474" stroke="#4a4a4a" stroke-width="1" stroke-dasharray="2 2" stroke-dashoffset="1"/>
<rect x="3.5" y="222.5" width="119.5" height="26.2" fill="#fff" stroke="#444" stroke-width="1" stroke-dasharray="1.6 1.65"/>
<rect x="36.0" y="255.0" width="87" height="26.2" fill="#fff" stroke="#444" stroke-width="1" stroke-dasharray="1.6 1.65"/>
<rect x="3.5" y="288.0" width="119.5" height="26.2" fill="#fff" stroke="#444" stroke-width="1" stroke-dasharray="1.6 1.65"/>
<rect x="164.0" y="222.5" width="107.5" height="26.2" fill="#fff" stroke="#444" stroke-width="1" stroke-dasharray="1.6 1.65"/>
<rect x="161.8" y="255.5" width="109.7" height="26.2" fill="#fff" stroke="#444" stroke-width="1" stroke-dasharray="1.6 1.65"/>
<rect x="164.0" y="287.5" width="107.5" height="26.2" fill="#fff" stroke="#444" stroke-width="1" stroke-dasharray="1.6 1.65"/>
<line x1="123.5" y1="235.3" x2="155" y2="235.3" stroke="#333" stroke-width="0.9" />
<line x1="123.5" y1="268.5" x2="152.5" y2="268.5" stroke="#333" stroke-width="0.9" />
<line x1="123.5" y1="301" x2="155" y2="301" stroke="#333" stroke-width="0.9" />
<rect x="155.5" y="231.8" width="7.5" height="7" fill="#fff" stroke="#333" stroke-width="1" />
<line x1="156.5" y1="235.3" x2="162.5" y2="235.3" stroke="#333" stroke-width="1" />
<rect x="153.0" y="265.0" width="8.0" height="7" fill="#fff" stroke="#333" stroke-width="1" />
<line x1="154.0" y1="268.5" x2="160.5" y2="268.5" stroke="#333" stroke-width="1" />
<rect x="155.5" y="297.5" width="7.5" height="7" fill="#fff" stroke="#333" stroke-width="1" />
<line x1="156.5" y1="301.0" x2="162.5" y2="301.0" stroke="#333" stroke-width="1" />
<line x1="272" y1="235.3" x2="300.5" y2="268.4" stroke="#333" stroke-width="0.9" />
<line x1="272" y1="268.3" x2="300.5" y2="268.4" stroke="#333" stroke-width="0.9" />
<line x1="272" y1="301" x2="300.5" y2="268.4" stroke="#333" stroke-width="0.9" />
<rect x="310.0" y="255.0" width="65.5" height="26" fill="#fff" stroke="#444" stroke-width="1" stroke-dasharray="1.6 1.65"/>
<rect x="301.0" y="264.7" width="8" height="7.5" fill="#fff" stroke="#333" stroke-width="1" />
<line x1="302.0" y1="268.45" x2="308.5" y2="268.45" stroke="#333" stroke-width="1" />
<line x1="376" y1="268.2" x2="404.5" y2="268.2" stroke="#333" stroke-width="0.9" />
<rect x="414.2" y="255.8" width="87" height="25.4" fill="#ffff80" stroke="#111" stroke-width="1.6" />
<rect x="405.0" y="264.8" width="8.5" height="7.5" fill="#fff" stroke="#333" stroke-width="1" />
<line x1="406.0" y1="268.55" x2="413.0" y2="268.55" stroke="#333" stroke-width="1" />
<rect x="501.8" y="264.8" width="8.5" height="7.5" fill="#fff" stroke="#333" stroke-width="1" />
<line x1="502.8" y1="268.55" x2="509.8" y2="268.55" stroke="#333" stroke-width="1" />
<line x1="510.8" y1="268.3" x2="539.3" y2="252.2" stroke="#333" stroke-width="0.9" />
<line x1="510.8" y1="268.3" x2="539.3" y2="284.6" stroke="#333" stroke-width="0.9" />
<rect x="539.5" y="272.0" width="74.5" height="25.5" fill="#fff" stroke="#444" stroke-width="1" stroke-dasharray="1.6 1.65"/>
<text x="7.6" y="233.2" font-size="9.9" fill="#2a2a2a" stroke="#2a2a2a" stroke-width="0.05" textLength="31.9" lengthAdjust="spacingAndGlyphs" >CC 2042</text>
<text x="39.7" y="234" font-size="11" fill="#2a2a2a" stroke="#2a2a2a" stroke-width="0.12" >巡航控制</text>
<text x="7.1" y="245.2" font-size="11" fill="#2b942b" stroke="#2b942b" stroke-width="0.12" >遵循用户的安装要求</text>
<text x="109.3" y="244.7" font-size="8.2" fill="#2b942b" textLength="8.6" lengthAdjust="spacingAndGlyphs" >{2}</text>
<text x="40.3" y="266.4" font-size="9.9" fill="#2a2a2a" stroke="#2a2a2a" stroke-width="0.05" textLength="31.9" lengthAdjust="spacingAndGlyphs" >CC 2042</text>
<text x="72.39999999999999" y="267.2" font-size="11" fill="#2a2a2a" stroke="#2a2a2a" stroke-width="0.12" >巡航控制</text>
<text x="39.8" y="278.4" font-size="11" fill="#2b942b" stroke="#2b942b" stroke-width="0.12" >满足法律要求</text>
<text x="109.3" y="277.9" font-size="8.2" fill="#2b942b" textLength="8.6" lengthAdjust="spacingAndGlyphs" >{2}</text>
<text x="7.8" y="299.2" font-size="9.9" fill="#2a2a2a" stroke="#2a2a2a" stroke-width="0.05" textLength="31.9" lengthAdjust="spacingAndGlyphs" >CC 2042</text>
<text x="39.9" y="300" font-size="11" fill="#2a2a2a" stroke="#2a2a2a" stroke-width="0.12" >巡航控制</text>
<text x="7.3" y="311.2" font-size="11" fill="#2b942b" stroke="#2b942b" stroke-width="0.12" >遵循用户的安装要求</text>
<text x="109.3" y="310.7" font-size="8.2" fill="#2b942b" textLength="8.6" lengthAdjust="spacingAndGlyphs" >{2}</text>
<text x="168.3" y="233.8" font-size="11" fill="#2a2a2a" stroke="#2a2a2a" stroke-width="0.12" >信号电缆（完整的）</text>
<text x="168.3" y="245.4" font-size="11" fill="#2b942b" stroke="#2b942b" stroke-width="0.12" >允许手工装配</text>
<text x="237.7" y="244.9" font-size="8.2" fill="#2b942b" textLength="8.6" lengthAdjust="spacingAndGlyphs" >{1}</text>
<text x="166" y="266.8" font-size="11" fill="#2a2a2a" stroke="#2a2a2a" stroke-width="0.12" >信号电缆（完整的）</text>
<text x="166" y="278.3" font-size="11" fill="#2b942b" stroke="#2b942b" stroke-width="0.12" >屏蔽周围环境影响</text>
<text x="257.5" y="277.8" font-size="8.2" fill="#2b942b" textLength="8.6" lengthAdjust="spacingAndGlyphs" >{2}</text>
<text x="168.3" y="300" font-size="11" fill="#2a2a2a" stroke="#2a2a2a" stroke-width="0.12" >信号电缆（完整的）</text>
<text x="168.3" y="311.3" font-size="11" fill="#2b942b" stroke="#2b942b" stroke-width="0.12" >允许多次交换</text>
<text x="237.7" y="310.8" font-size="8.2" fill="#2b942b" textLength="8.6" lengthAdjust="spacingAndGlyphs" >{1}</text>
<text x="313.8" y="266.2" font-size="11" fill="#2a2a2a" stroke="#2a2a2a" stroke-width="0.12" >插头</text>
<text x="313.8" y="277.9" font-size="11" fill="#2b942b" stroke="#2b942b" stroke-width="0.12" >机械接口</text>
<text x="361" y="277.4" font-size="8.2" fill="#2b942b" textLength="8.6" lengthAdjust="spacingAndGlyphs" >{2}</text>
<text x="418" y="266.2" font-size="11" fill="#2a2a2a" stroke="#2a2a2a" stroke-width="0.12" >插体</text>
<text x="418" y="277.6" font-size="11" fill="#2b942b" stroke="#2b942b" stroke-width="0.12" >机械固定插针</text>
<text x="487" y="277.1" font-size="8.2" fill="#2b942b" textLength="8.6" lengthAdjust="spacingAndGlyphs" >{1}</text>
<text x="543.8" y="250.4" font-size="11" fill="#2a2a2a" stroke="#2a2a2a" stroke-width="0.12" >插体结构设计</text>
<text x="543.8" y="261.6" font-size="11" fill="#2b942b" stroke="#2b942b" stroke-width="0.12" >固定插针</text>
<text x="591.8" y="261.1" font-size="8.2" fill="#2b942b" textLength="8.6" lengthAdjust="spacingAndGlyphs" >{1}</text>
<text x="543.8" y="282.7" font-size="11" fill="#2a2a2a" stroke="#2a2a2a" stroke-width="0.12" >插体结构设计</text>
<text x="543.8" y="294.6" font-size="11" fill="#2b942b" stroke="#2b942b" stroke-width="0.12" >插体材料</text>
<text x="591.8" y="294.1" font-size="8.2" fill="#2b942b" textLength="8.6" lengthAdjust="spacingAndGlyphs" >{1}</text>
<line x1="0" y1="473.5" x2="1024" y2="473.5" stroke="#f0f0f0" stroke-width="1" />
</svg></body></html>
